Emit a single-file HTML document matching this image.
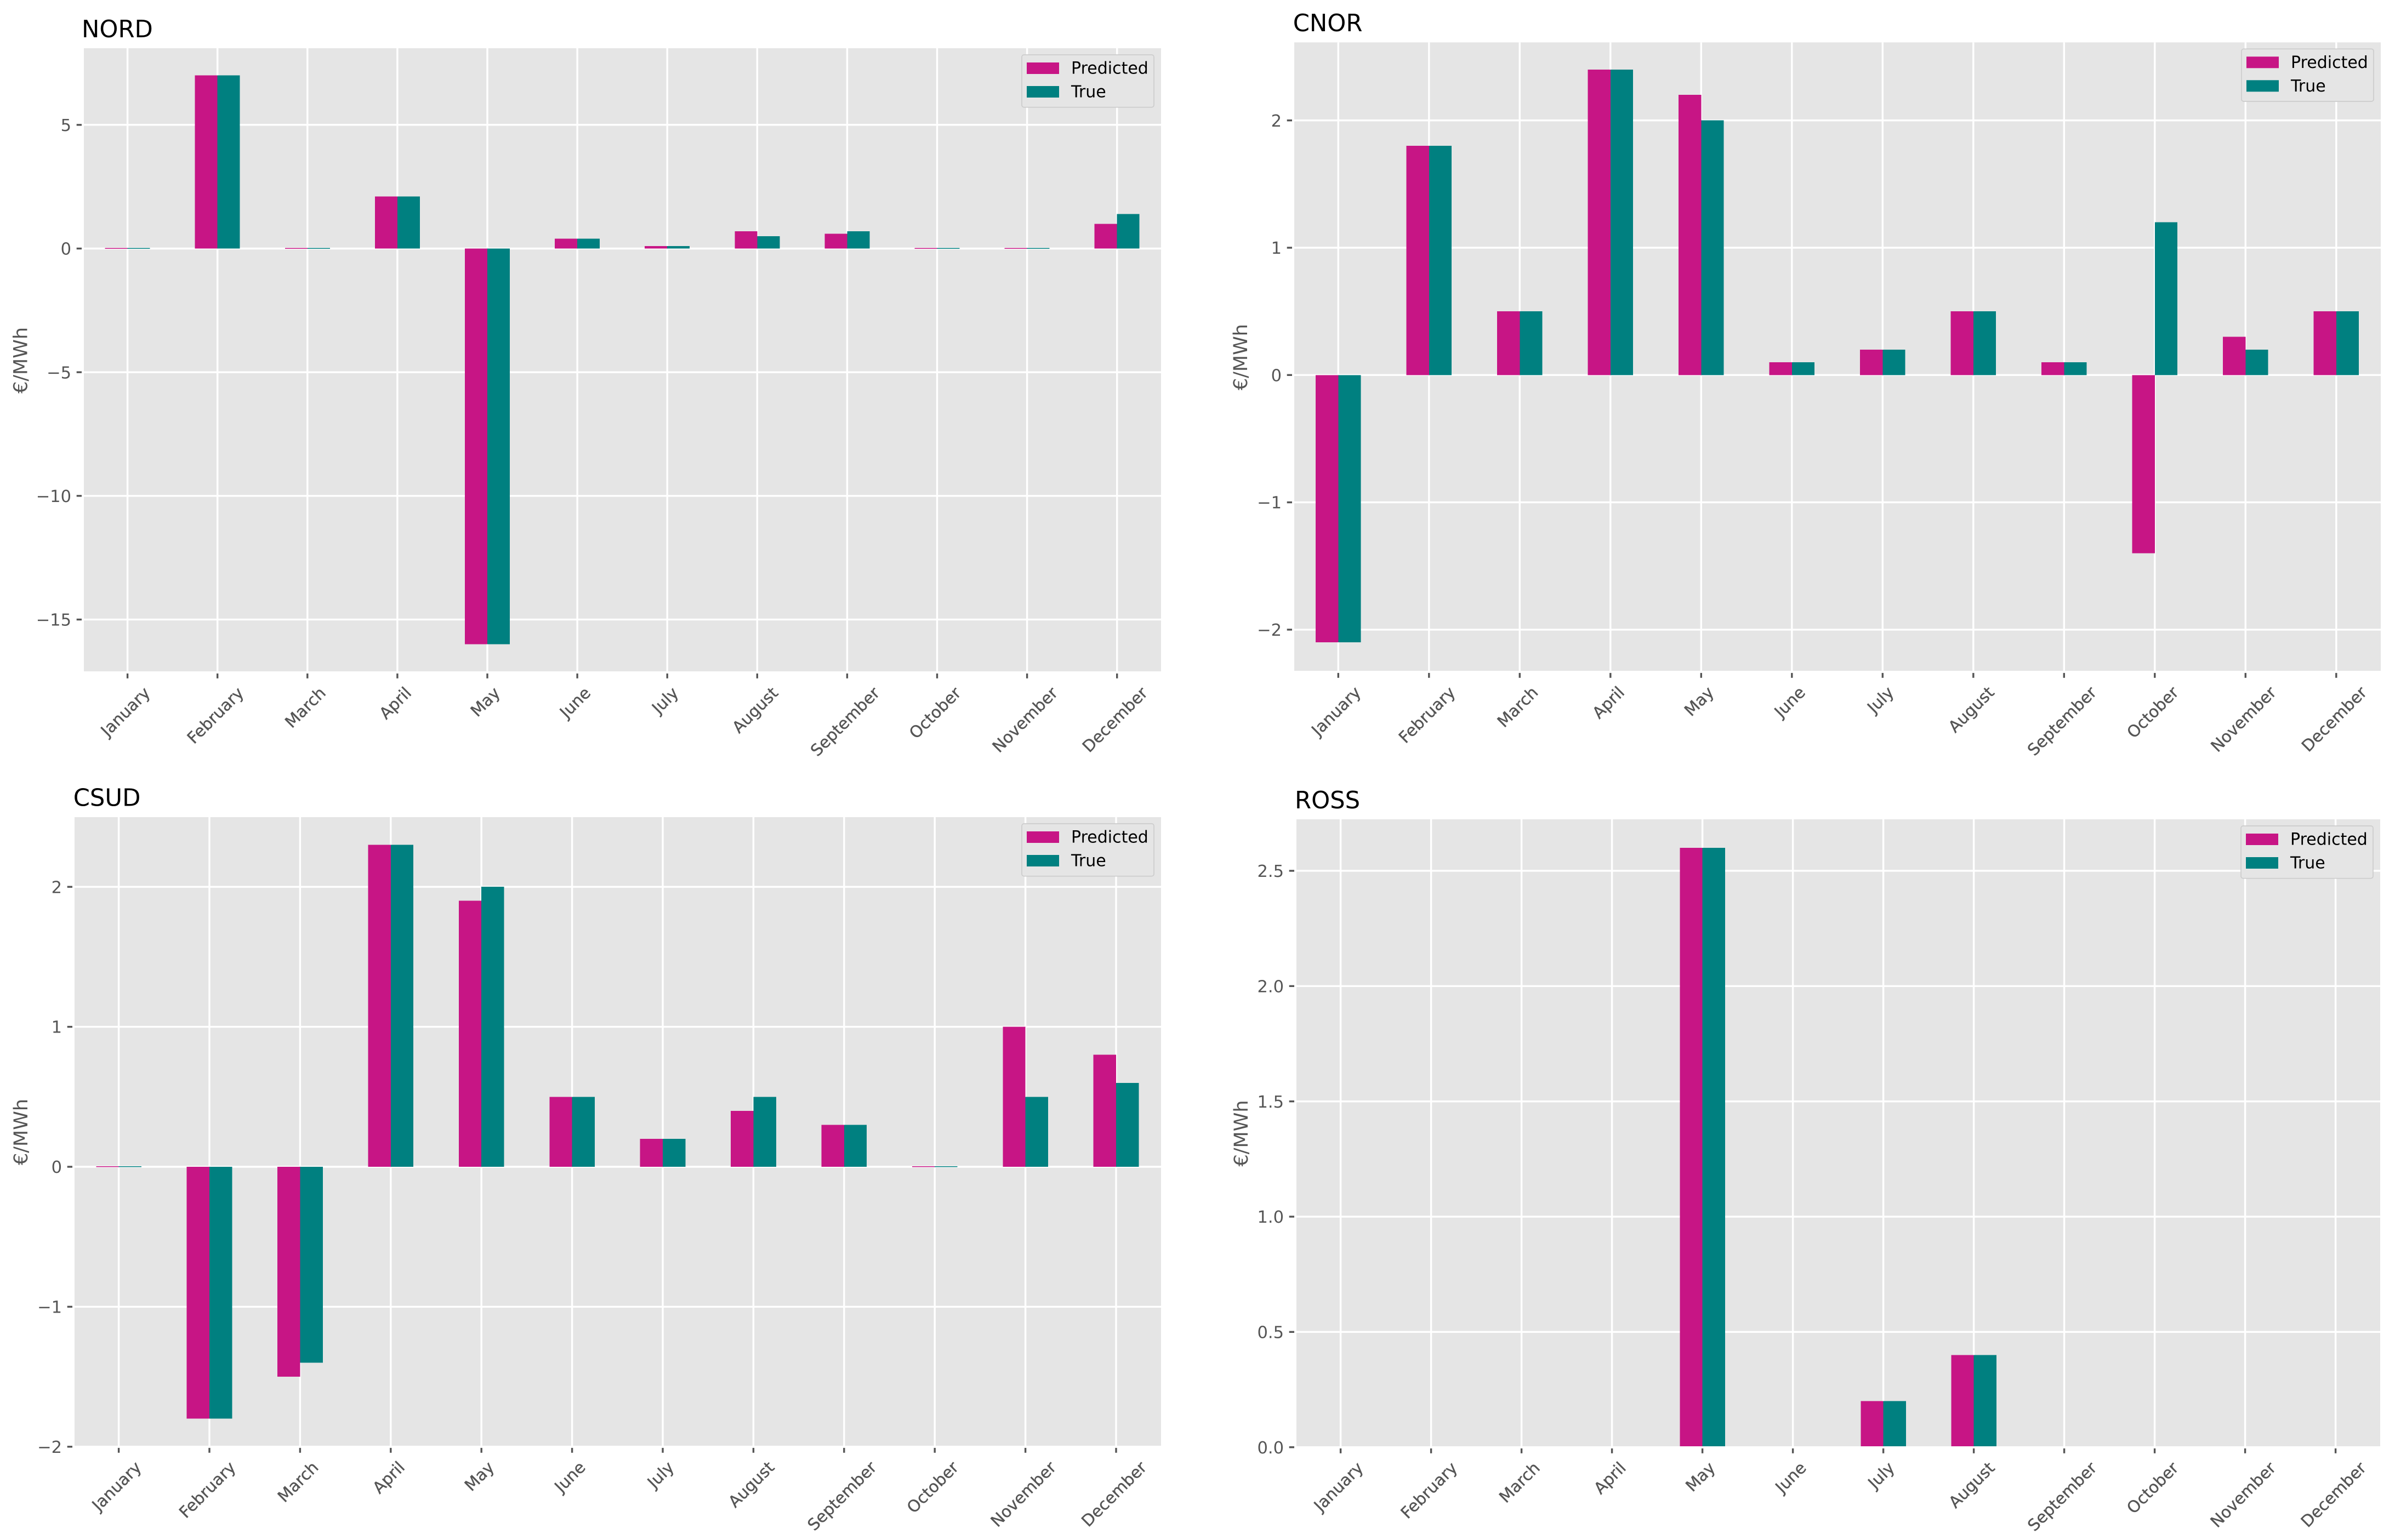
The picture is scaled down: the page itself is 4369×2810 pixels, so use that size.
<!DOCTYPE html>
<html lang="en">
<head>
<meta charset="utf-8">
<title>Predicted vs True price by zone</title>
<style>
html,body{margin:0;padding:0;background:#fff;}
svg{display:block;font-family:"DejaVu Sans","Liberation Sans",sans-serif;}
</style>
</head>
<body>
<svg id="chart" xmlns="http://www.w3.org/2000/svg" width="4369" height="2810" viewBox="0 0 4369 2810"></svg>
<script>
const months = ['January','February','March','April','May','June','July','August','September','October','November','December'];
const seriesNames = ['Predicted','True'];
const unitLabel = '€/MWh';

const nordPredicted = [0, 7, 0, 2.1, -16, 0.4, 0.1, 0.7, 0.6, 0, 0, 1.0];
const nordTrue      = [0, 7, 0, 2.1, -16, 0.4, 0.1, 0.5, 0.7, 0, 0, 1.4];
const nordTicks     = [-15, -10, -5, 0, 5];
const nordTickText  = ['−15', '−10', '−5', '0', '5'];

const cnorPredicted = [-2.1, 1.8, 0.5, 2.4, 2.2, 0.1, 0.2, 0.5, 0.1, -1.4, 0.3, 0.5];
const cnorTrue      = [-2.1, 1.8, 0.5, 2.4, 2.0, 0.1, 0.2, 0.5, 0.1, 1.2, 0.2, 0.5];
const cnorTicks     = [-2, -1, 0, 1, 2];
const cnorTickText  = ['−2', '−1', '0', '1', '2'];

const csudPredicted = [0, -1.8, -1.5, 2.3, 1.9, 0.5, 0.2, 0.4, 0.3, 0, 1.0, 0.8];
const csudTrue      = [0, -1.8, -1.4, 2.3, 2.0, 0.5, 0.2, 0.5, 0.3, 0, 0.5, 0.6];
const csudTicks     = [-2, -1, 0, 1, 2];
const csudTickText  = ['−2', '−1', '0', '1', '2'];

const rossPredicted = [0, 0, 0, 0, 2.6, 0, 0.2, 0.4, 0, 0, 0, 0];
const rossTrue      = [0, 0, 0, 0, 2.6, 0, 0.2, 0.4, 0, 0, 0, 0];
const rossTicks     = [0, 0.5, 1, 1.5, 2, 2.5];
const rossTickText  = ['0.0', '0.5', '1.0', '1.5', '2.0', '2.5'];

const NS = 'http://www.w3.org/2000/svg';
const root = document.getElementById('chart');
const COLORS = ['#C71585', '#008080'];
const TICK_FONT = 30.5, XLABEL_FONT = 29.5, LEGEND_FONT = 30, TITLE_FONT = 43.3, YLABEL_FONT = 35;

function make(parent, tag, attrs, text) {
  const el = document.createElementNS(NS, tag);
  for (const k in attrs) el.setAttribute(k, attrs[k]);
  if (text !== undefined) el.textContent = text;
  parent.appendChild(el);
  return el;
}

function drawPanel(cfg) {
  const slug = cfg.title.toLowerCase();
  const xScale = i => cfg.x0 + cfg.dx * i;
  const yScale = v => cfg.zero - cfg.unit * v;
  const barW = cfg.dx * 0.25;

  const g = make(root, 'g', {});
  
  

  const clipId = 'clip-' + slug;
  const defs = make(g, 'defs', {});
  const cp = make(defs, 'clipPath', {id: clipId});
  make(cp, 'rect', {x: cfg.left, y: cfg.top, width: cfg.right - cfg.left, height: cfg.bottom - cfg.top});

  const bg = make(g, 'rect', {x: cfg.left, y: cfg.top, width: cfg.right - cfg.left, height: cfg.bottom - cfg.top, fill: '#E5E5E5'});
  
  

  const grid = make(g, 'g', {stroke: '#FFFFFF', 'stroke-width': 3.4, 'clip-path': 'url(#' + clipId + ')'});
  
  
  cfg.ticks.forEach(v => {
    make(grid, 'line', {x1: cfg.left, x2: cfg.right, y1: yScale(v), y2: yScale(v)});
  });
  months.forEach((m, i) => {
    make(grid, 'line', {x1: xScale(i), x2: xScale(i), y1: cfg.top, y2: cfg.bottom});
  });

  const bars = make(g, 'g', {'clip-path': 'url(#' + clipId + ')'});
  
  
  cfg.series.forEach((vals, s) => {
    vals.forEach((v, i) => {
      const yv = yScale(v), yz = yScale(0);
      let top = Math.min(yv, yz), h = Math.abs(yv - yz);
      if (h < 1.4) { h = 1.4; top = yz - 1; }
      const r = make(bars, 'rect', {
        x: xScale(i) + (s === 0 ? -barW : 0),
        y: top,
        width: barW,
        height: h,
        fill: COLORS[s],
        'shape-rendering': 'crispEdges'
      });
      
      
    });
  });

  const yAxis = make(g, 'g', {});
  
  
  cfg.ticks.forEach((v, i) => {
    const y = yScale(v);
    const t = make(yAxis, 'line', {x1: cfg.left - 13.3, x2: cfg.left - 4, y1: y, y2: y, stroke: '#555555', 'stroke-width': 3.4});
    
    
    const l = make(yAxis, 'text', {x: cfg.left - 23, y: y + TICK_FONT * 0.364, 'text-anchor': 'end', 'font-size': TICK_FONT, fill: '#555555'}, cfg.tickText[i]);
    
    
  });

  const xAxis = make(g, 'g', {});
  
  
  months.forEach((m, i) => {
    const x = xScale(i);
    const t = make(xAxis, 'line', {x1: x, x2: x, y1: cfg.bottom + 3.9, y2: cfg.bottom + 12.8, stroke: '#555555', 'stroke-width': 3.4});
    
    
    const l = make(xAxis, 'text', {'text-anchor': 'middle', 'font-size': XLABEL_FONT, fill: '#555555', stroke: '#555555', 'stroke-width': 0.4}, m);
    
    
    const len = l.getComputedTextLength();
    const cy = cfg.bottom + 26 + (len + XLABEL_FONT * 0.95) * 0.7071 / 2;
    const cx = x - 2;
    l.setAttribute('x', cx);
    l.setAttribute('y', cy + XLABEL_FONT * 0.26);
    l.setAttribute('transform', 'rotate(-45 ' + cx + ' ' + cy + ')');
  });

  const title = make(g, 'text', {x: cfg.titleX, y: cfg.titleY, 'font-size': TITLE_FONT, fill: '#000000'}, cfg.title);
  
  

  const cy = (cfg.top + cfg.bottom) / 2 + 1;
  const yl = make(g, 'text', {x: cfg.ylabelX, y: cy, 'text-anchor': 'middle', 'font-size': YLABEL_FONT, fill: '#555555', transform: 'rotate(-90 ' + cfg.ylabelX + ' ' + cy + ')'}, unitLabel);
  
  

  const lg = make(g, 'g', {});
  
  
  make(lg, 'rect', {x: cfg.right - 254, y: cfg.top + 12, width: 241, height: 95.7, rx: 4, ry: 4, fill: '#E5E5E5', stroke: '#CCCCCC', 'stroke-width': 1.7});
  seriesNames.forEach((n, s) => {
    const row = s * 43;
    const sw = make(lg, 'rect', {x: cfg.right - 245, y: cfg.top + 26 + row, width: 59, height: 21, fill: COLORS[s]});
    
    
    const tx = make(lg, 'text', {x: cfg.right - 164, y: cfg.top + 46.5 + row, 'font-size': LEGEND_FONT, fill: '#000000'}, n);
    
    
  });
}

drawPanel({title: 'NORD', series: [nordPredicted, nordTrue], ticks: nordTicks, tickText: nordTickText,
  left: 153, right: 2118, top: 88, bottom: 1225, x0: 232.6, dx: 164.1, zero: 453.5, unit: 45.13,
  titleX: 149, titleY: 68, ylabelX: 49.5});
drawPanel({title: 'CNOR', series: [cnorPredicted, cnorTrue], ticks: cnorTicks, tickText: cnorTickText,
  left: 2361, right: 4343, top: 77.3, bottom: 1224, x0: 2441.3, dx: 165.5, zero: 684.3, unit: 232.3,
  titleX: 2358.7, titleY: 57, ylabelX: 2275});
drawPanel({title: 'CSUD', series: [csudPredicted, csudTrue], ticks: csudTicks, tickText: csudTickText,
  left: 136, right: 2118, top: 1491, bottom: 2638, x0: 216.6, dx: 165.4, zero: 2129, unit: 255.4,
  titleX: 133.7, titleY: 1470.7, ylabelX: 50});
drawPanel({title: 'ROSS', series: [rossPredicted, rossTrue], ticks: rossTicks, tickText: rossTickText,
  left: 2365, right: 4342, top: 1495, bottom: 2639, x0: 2445.6, dx: 165, zero: 2640.7, unit: 420.7,
  titleX: 2362, titleY: 1475, ylabelX: 2276});
</script>
</body>
</html>
